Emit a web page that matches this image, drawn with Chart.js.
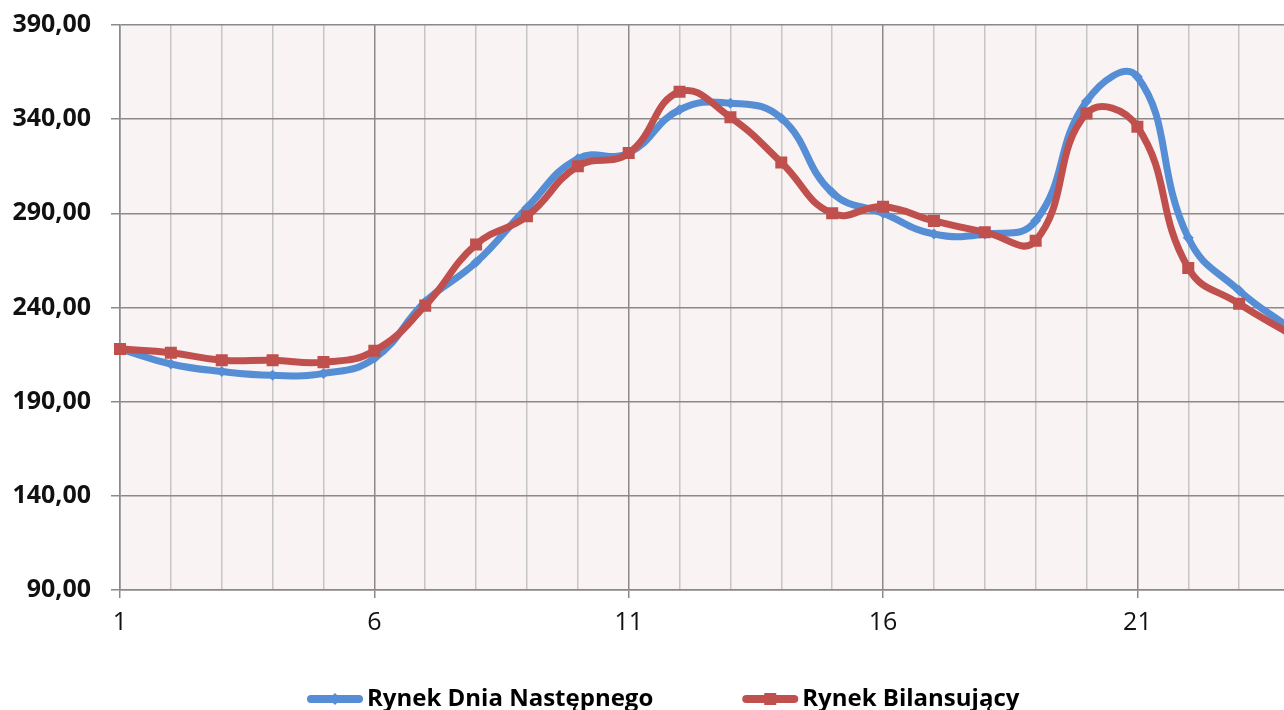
<!DOCTYPE html>
<html>
<head>
<meta charset="utf-8">
<script src="https://cdn.jsdelivr.net/npm/chart.js@4"></script>
<style>
    html, body { margin: 0; padding: 0; background: #fff; overflow: hidden; }
    #wrap { width: 1284px; height: 710px; overflow: hidden; position: relative; }
    #chart { display: block; position: absolute; left: 0; top: -10px; }
</style>
</head>
<body>
<div id="wrap"><canvas id="chart" width="1300" height="720"></canvas></div>
<script>
// godziny doby (oś X)
const hours = ["1", "2", "3", "4", "5", "6", "7", "8", "9", "10", "11", "12",
               "13", "14", "15", "16", "17", "18", "19", "20", "21", "22", "23", "24"];

// ceny
const rdnPrices = [218, 210, 206, 204, 205, 213, 243, 264, 293, 319, 322, 345,
                   348.5, 340.5, 301, 290, 279, 279, 286, 349.5, 362.5, 277, 249, 229];
const rbPrices = [218, 216, 212, 212, 211, 217, 241, 273.5, 288.5, 315, 322, 354.5,
                  341, 317, 290, 293.5, 286, 280, 275.5, 343, 336, 261, 242, 226];

const yTicks = [90, 140, 190, 240, 290, 340, 390];

const BLUE = "#558ed5";
const RED = "#c0504d";
const GRID_DARK = "#8a8a8a";
const GRID_LIGHT = "#c6c6c6";

const plotBackground = {
    id: "plotBackground",
    beforeDraw(chart) {
        const { ctx, chartArea } = chart;
        ctx.save();
        ctx.fillStyle = "#f9f3f3";
        ctx.fillRect(chartArea.left, chartArea.top,
                     chartArea.right - chartArea.left, chartArea.bottom - chartArea.top);
        ctx.restore();
    }
};

// legenda jak w Excelu: linia z markerem + pogrubiony opis
const bottomLegend = {
    id: "bottomLegend",
    afterDraw(chart) {
        const ctx = chart.ctx;
        const sample = 56, gap = 4, itemGap = 89;
        const y = 709;   // canvas przesunięty o 10px w górę

        ctx.save();
        ctx.font = "bold 24px 'Open Sans'";

        let x = 307;

        chart.data.datasets.forEach(ds => {
            const color = ds.borderColor;

            ctx.strokeStyle = color;
            ctx.lineWidth = 8;
            ctx.lineCap = "round";
            ctx.beginPath();
            ctx.moveTo(x + 4, y);
            ctx.lineTo(x + sample - 4, y);
            ctx.stroke();

            const cx = x + sample / 2;
            ctx.fillStyle = color;
            ctx.beginPath();
            if (ds.pointStyle === "rect") {
                ctx.rect(cx - 6, y - 6, 12, 12);
            } else {
                ctx.moveTo(cx - 6, y);
                ctx.lineTo(cx, y - 6);
                ctx.lineTo(cx + 6, y);
                ctx.lineTo(cx, y + 6);
                ctx.closePath();
            }
            ctx.fill();

            ctx.fillStyle = "#000";
            ctx.textBaseline = "alphabetic";
            ctx.textAlign = "left";
            ctx.fillText(ds.label, x + sample + gap, 716);

            x += sample + gap + ctx.measureText(ds.label).width + itemGap;
        });

        ctx.restore();
    }
};

const ctx = document.getElementById("chart").getContext("2d");

new Chart(ctx, {
    type: "line",
    data: {
        labels: hours,
        datasets: [
            {
                label: "Rynek Dnia Następnego",
                data: rdnPrices,
                borderColor: BLUE,
                backgroundColor: BLUE,
                borderWidth: 7,
                tension: 0.45,
                pointStyle: "rectRot",
                pointRadius: 5.5,
                pointBorderWidth: 0,
                pointBackgroundColor: BLUE,
                order: 1
            },
            {
                label: "Rynek Bilansujący",
                data: rbPrices,
                borderColor: RED,
                backgroundColor: RED,
                borderWidth: 7,
                tension: 0.45,
                pointStyle: "rect",
                pointRadius: 8.5,
                pointBorderWidth: 0,
                pointBackgroundColor: RED,
                order: 0
            }
        ]
    },
    options: {
        responsive: false,
        maintainAspectRatio: false,
        devicePixelRatio: 1,
        animation: false,
        layout: {
            padding: { left: 0, right: 7, top: 13, bottom: 0 }
        },
        plugins: {
            legend: { display: false },
            tooltip: { enabled: false }
        },
        scales: {
            x: {
                type: "category",
                offset: false,
                afterFit(scale) { scale.height = 120; },
                border: { display: true, color: GRID_DARK, width: 1.5 },
                grid: {
                    color: c => c.index % 5 === 0 ? GRID_DARK : GRID_LIGHT,
                    tickColor: c => c.index % 5 === 0 ? GRID_DARK : "rgba(0,0,0,0)",
                    lineWidth: 1.5,
                    tickLength: 8
                },
                ticks: {
                    autoSkip: false,
                    maxRotation: 0,
                    padding: 10,
                    color: "#111",
                    font: { family: "'Open Sans'", size: 25 },
                    callback: function (value, index) {
                        return index % 5 === 0 ? this.getLabelForValue(value) : "";
                    }
                }
            },
            y: {
                min: yTicks[0],
                max: yTicks[yTicks.length - 1],
                afterFit(scale) { scale.width = 120; },
                afterBuildTicks(scale) {
                    scale.ticks = yTicks.map(v => ({ value: v }));
                },
                border: { display: true, color: GRID_DARK, width: 1.5 },
                grid: {
                    color: GRID_DARK,
                    lineWidth: 1.5,
                    tickLength: 9
                },
                ticks: {
                    padding: 20,
                    color: "#111",
                    font: { family: "'Open Sans'", size: 25, weight: "bold" },
                    callback: v => v.toFixed(2).replace(".", ",")
                }
            }
        }
    },
    plugins: [plotBackground, bottomLegend]
});
</script>
</body>
</html>
